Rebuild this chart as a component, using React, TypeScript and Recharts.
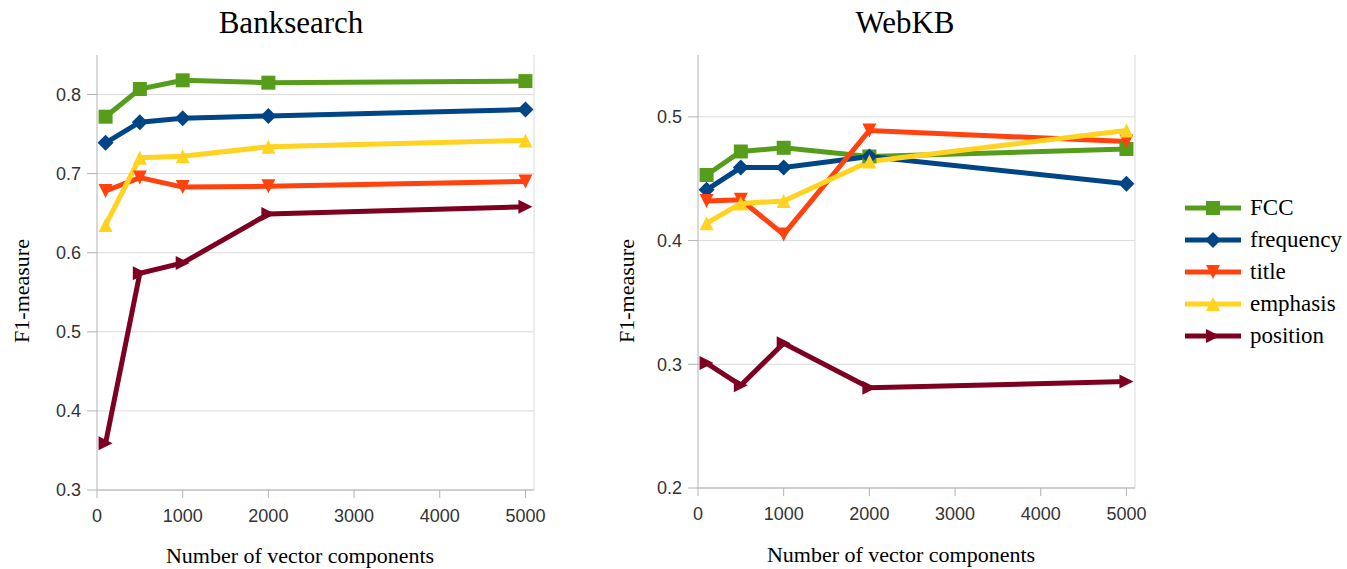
import React from 'react';
import { LineChart, Line, XAxis, YAxis, CartesianGrid, ReferenceLine, Legend } from 'recharts';

// ---- data ----
const xValues = [100, 500, 1000, 2000, 5000];
const xTicks = [0, 1000, 2000, 3000, 4000, 5000];

const bankFCC = [0.772, 0.807, 0.818, 0.815, 0.817];
const bankFrequency = [0.739, 0.765, 0.77, 0.773, 0.781];
const bankTitle = [0.678, 0.695, 0.683, 0.684, 0.69];
const bankEmphasis = [0.635, 0.72, 0.722, 0.734, 0.742];
const bankPosition = [0.359, 0.574, 0.587, 0.649, 0.658];
const bankYTicks = [0.3, 0.4, 0.5, 0.6, 0.7, 0.8];

const webFCC = [0.453, 0.472, 0.475, 0.468, 0.474];
const webFrequency = [0.441, 0.459, 0.459, 0.468, 0.446];
const webTitle = [0.432, 0.433, 0.405, 0.489, 0.48];
const webEmphasis = [0.414, 0.43, 0.432, 0.464, 0.489];
const webPosition = [0.301, 0.283, 0.317, 0.281, 0.286];
const webYTicks = [0.2, 0.3, 0.4, 0.5];

const seriesNames = ['FCC', 'frequency', 'title', 'emphasis', 'position'];
const seriesColors = ['#579d1c', '#004586', '#ff420e', '#ffd320', '#7e0021'];
const seriesShapes = ['square', 'diamond', 'down', 'up', 'right'];

const buildRows = (cols: number[][]) =>
  xValues.map((x, i) => {
    const row: Record<string, number> = { x };
    seriesNames.forEach((n, k) => {
      row[n] = cols[k][i];
    });
    return row;
  });

const bankRows = buildRows([bankFCC, bankFrequency, bankTitle, bankEmphasis, bankPosition]);
const webRows = buildRows([webFCC, webFrequency, webTitle, webEmphasis, webPosition]);

// ---- style ----
const SANS = '"Liberation Sans", Arial, sans-serif';
const SERIF = '"Liberation Serif", "Times New Roman", serif';
const AXIS = '#b3b3b3';
const GRID = '#dadada';

function markerEl(shape: string, color: string, cx: number, cy: number, key?: any) {
  const s = 7;
  switch (shape) {
    case 'square':
      return <rect key={key} x={cx - s} y={cy - s} width={2 * s} height={2 * s} fill={color} />;
    case 'diamond':
      return (
        <polygon key={key} fill={color}
          points={`${cx},${cy - s - 1} ${cx + s + 1},${cy} ${cx},${cy + s + 1} ${cx - s - 1},${cy}`} />
      );
    case 'down':
      return <polygon key={key} fill={color} points={`${cx - s},${cy - s} ${cx + s},${cy - s} ${cx},${cy + s}`} />;
    case 'up':
      return <polygon key={key} fill={color} points={`${cx - s},${cy + s} ${cx + s},${cy + s} ${cx},${cy - s}`} />;
    default:
      return <polygon key={key} fill={color} points={`${cx - s},${cy - s} ${cx + s},${cy} ${cx - s},${cy + s}`} />;
  }
}

const makeDot = (shape: string, color: string) => (props: any) => {
  const { cx, cy, index } = props;
  if (cx == null || cy == null) return <g key={index} />;
  return markerEl(shape, color, cx, cy, index);
};

const LegendContent = () => (
  <div style={{ fontFamily: SERIF, fontSize: 23, color: '#000' }}>
    {seriesNames.map((n, i) => (
      <div key={n} style={{ display: 'flex', alignItems: 'center', height: 32, whiteSpace: 'nowrap' }}>
        <svg width={56} height={20} style={{ display: 'block' }}>
          <line x1={0} y1={10} x2={56} y2={10} stroke={seriesColors[i]} strokeWidth={5} />
          {markerEl(seriesShapes[i], seriesColors[i], 28, 10)}
        </svg>
        <span style={{ marginLeft: 9, lineHeight: '32px' }}>{n}</span>
      </div>
    ))}
  </div>
);

type PanelProps = {
  rows: Record<string, number>[];
  yDomain: [number, number];
  yTicks: number[];
  width: number;
  margin: { top: number; right: number; bottom: number; left: number };
  yLabel: { x: number; y: number };
  xLabel: { x: number; y: number };
  withLegend?: boolean;
};

function Panel({ rows, yDomain, yTicks, width, margin, yLabel, xLabel, withLegend }: PanelProps) {
  return (
    <LineChart width={width} height={569} data={rows} margin={margin}>
      <CartesianGrid vertical={false} stroke={GRID} horizontalValues={yTicks} />
      <ReferenceLine x={5100} stroke={GRID} strokeWidth={1} />
      <XAxis
        dataKey="x"
        type="number"
        domain={[0, 5100]}
        ticks={xTicks}
        interval={0}
        height={40}
        tickSize={8}
        tickMargin={11}
        axisLine={{ stroke: AXIS }}
        tickLine={{ stroke: AXIS }}
        tick={{ fill: '#333', fontSize: 18, fontFamily: SANS }}
        label={{
          content: () => (
            <text x={xLabel.x} y={xLabel.y} textAnchor="middle" fontFamily={SERIF} fontSize={22} fill="#000">
              Number of vector components
            </text>
          ),
        }}
      />
      <YAxis
        type="number"
        domain={yDomain}
        ticks={yTicks}
        interval={0}
        width={80}
        tickSize={10}
        tickMargin={6}
        allowDataOverflow
        axisLine={{ stroke: AXIS }}
        tickLine={{ stroke: AXIS }}
        tick={{ fill: '#333', fontSize: 18, fontFamily: SANS }}
        label={{
          content: () => (
            <text x={yLabel.x} y={yLabel.y} textAnchor="middle" fontFamily={SERIF} fontSize={22} fill="#000"
              transform={`rotate(-90, ${yLabel.x}, ${yLabel.y})`}>
              F1-measure
            </text>
          ),
        }}
      />
      {seriesNames.map((n, i) => (
        <Line
          key={n}
          dataKey={n}
          name={n}
          type="linear"
          stroke={seriesColors[i]}
          strokeWidth={5}
          dot={makeDot(seriesShapes[i], seriesColors[i])}
          activeDot={false}
          isAnimationActive={false}
        />
      ))}
      {withLegend && (
        <Legend
          layout="vertical"
          align="center"
          verticalAlign="middle"
          content={() => <LegendContent />}
          wrapperStyle={{ left: 605, top: 192, width: 170 }}
        />
      )}
    </LineChart>
  );
}

export default function App() {
  return (
    <div style={{ position: 'absolute', left: 0, top: 0, width: 1347, height: 569, background: '#fff', overflow: 'hidden' }}>
      <div style={{ position: 'absolute', left: 291, top: 5, transform: 'translateX(-50%)', fontFamily: SERIF, fontSize: 31, lineHeight: '36px', whiteSpace: 'nowrap' }}>
        Banksearch
      </div>
      <div style={{ position: 'absolute', left: 905, top: 5, transform: 'translateX(-50%)', fontFamily: SERIF, fontSize: 31, lineHeight: '36px', whiteSpace: 'nowrap' }}>
        WebKB
      </div>
      <div style={{ position: 'absolute', left: 0, top: 0 }}>
        <Panel
          rows={bankRows}
          yDomain={[0.3, 0.85]}
          yTicks={bankYTicks}
          width={560}
          margin={{ top: 55, right: 26, bottom: 39, left: 17 }}
          yLabel={{ x: 29, y: 291 }}
          xLabel={{ x: 300, y: 563 }}
        />
      </div>
      <div style={{ position: 'absolute', left: 580, top: 0 }}>
        <Panel
          rows={webRows}
          yDomain={[0.2, 0.55]}
          yTicks={webYTicks}
          width={767}
          margin={{ top: 55, right: 212, bottom: 41, left: 38 }}
          yLabel={{ x: 54, y: 291 }}
          xLabel={{ x: 321, y: 562 }}
          withLegend
        />
      </div>
    </div>
  );
}
